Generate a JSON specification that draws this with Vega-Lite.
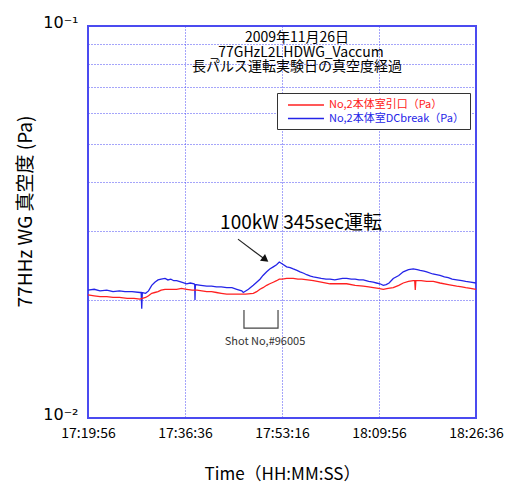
{
  "$schema": "https://vega.github.io/schema/vega-lite/v6.json",
  "width": 388,
  "height": 392,
  "autosize": {"type": "none"},
  "padding": {"left": 88, "top": 26, "right": 37, "bottom": 67},
  "background": "white",
  "config": {
    "view": {"stroke": "#4b4bef", "strokeWidth": 2},
    "font": "Noto Sans CJK JP"
  },
  "title": {
    "text": ["2009年11月26日", "_77GHzL2LHDWG_Vaccum", "長パルス運転実験日の真空度経過"],
    "fontSize": 14,
    "fontWeight": "normal",
    "lineHeight": 14.5,
    "color": "black",
    "font": "Noto Sans CJK JP",
    "anchor": "middle",
    "dx": 15,
    "offset": -60
  },
  "encoding": {
    "x": {
      "field": "t",
      "type": "quantitative",
      "scale": {"domain": [62396, 66396], "nice": false, "zero": false},
      "axis": {
        "values": [62396, 63396, 64396, 65396, 66396],
        "labelExpr": "utcFormat(datum.value*1000, '%H:%M:%S')",
        "ticks": false,
        "domain": false,
        "grid": true,
        "gridColor": "#4a4af5",
        "gridDash": [1, 2],
        "gridOpacity": 1,
        "labelFontSize": 14,
        "labelColor": "black",
        "labelPadding": 8,
        "labelFlush": false,
        "title": "Time（HH:MM:SS）",
        "titleFontSize": 17,
        "titleFontWeight": "normal",
        "titleColor": "black",
        "titlePadding": 26
      }
    },
    "y": {
      "field": "v",
      "type": "quantitative",
      "scale": {"type": "log", "domain": [0.01, 0.1], "nice": false},
      "axis": {
        "values": [0.01, 0.02, 0.03, 0.04, 0.05, 0.06, 0.07, 0.08, 0.09, 0.1],
        "labelExpr": "datum.value == 0.1 ? '10⁻¹' : (datum.value == 0.01 ? '10⁻²' : '')",
        "ticks": false,
        "domain": false,
        "grid": true,
        "gridColor": "#4a4af5",
        "gridDash": [1, 2],
        "gridOpacity": 1,
        "labelFont": "DejaVu Sans",
        "labelFontSize": 16,
        "labelOffset": -4,
        "labelColor": "black",
        "labelPadding": 10,
        "labelFlush": false,
        "title": "77HHz WG 真空度 (Pa)",
        "titleFontSize": 19,
        "titleFontWeight": "normal",
        "titleColor": "black",
        "titleX": -63,
        "titleY": 185,
        "titleBaseline": "middle",
        "titleAlign": "center"
      }
    }
  },
  "layer": [
    {
      "data": {"name": "series"},
      "mark": {"type": "line", "strokeWidth": 1.3},
      "encoding": {
        "color": {
          "field": "s",
          "type": "nominal",
          "scale": {
            "domain": ["No,2本体室引口（Pa）", "No,2本体室DCbreak（Pa）"],
            "range": ["#ff2020", "#2424e8"]
          },
          "legend": {
            "orient": "none",
            "legendX": 189,
            "legendY": 67,
            "title": null,
            "symbolType": "M-0.17,0H5.83",
            "symbolSize": 144,
            "symbolStrokeWidth": 1.5,
            "labelFontSize": 11,
            "labelLimit": 300,
            "labelOffset": 33,
            "strokeColor": "#333333",
            "fillColor": "white",
            "padding": 5,
            "rowPadding": 1.5,
            "encode": {"labels": {"update": {"fill": {"scale": "color", "field": "value"}}}}
          }
        }
      }
    },
    {
      "data": {"values": [{"t": 63942, "v": 0.0286}, {"t": 64215, "v": 0.02545}]},
      "mark": {"type": "line", "color": "#222222", "strokeWidth": 1.2},
      "encoding": {}
    },
    {
      "data": {"values": [{"t": 64225, "v": 0.02535}]},
      "mark": {"type": "point", "shape": "triangle-right", "filled": true, "color": "#111111", "size": 70, "angle": 37, "opacity": 1},
      "encoding": {}
    },
    {
      "data": {"values": [
        {"t": 64004, "v": 0.01886, "o": 1},
        {"t": 64004, "v": 0.01696, "o": 2},
        {"t": 64355, "v": 0.01696, "o": 3},
        {"t": 64355, "v": 0.01886, "o": 4}
      ]},
      "mark": {"type": "line", "color": "#444444", "strokeWidth": 1.2},
      "encoding": {"order": {"field": "o", "type": "quantitative"}}
    },
    {
      "data": {"values": [{"t": 64592, "v": 0.0314, "label": "100kW 345sec運転"}]},
      "mark": {"type": "text", "fontSize": 19, "color": "black", "baseline": "middle", "align": "center"},
      "encoding": {"text": {"field": "label"}}
    },
    {
      "data": {"values": [{"t": 64221, "v": 0.01563, "label": "Shot No,#96005"}]},
      "mark": {"type": "text", "fontSize": 11, "color": "#333333", "baseline": "middle", "align": "center"},
      "encoding": {"text": {"field": "label"}}
    }
  ],
  "datasets": {
    "series": [
      {"s": "No,2本体室DCbreak（Pa）", "t": 62396, "v": 0.0212},
      {"s": "No,2本体室DCbreak（Pa）", "t": 62460, "v": 0.0213},
      {"s": "No,2本体室DCbreak（Pa）", "t": 62520, "v": 0.0211},
      {"s": "No,2本体室DCbreak（Pa）", "t": 62590, "v": 0.0212},
      {"s": "No,2本体室DCbreak（Pa）", "t": 62654, "v": 0.0210},
      {"s": "No,2本体室DCbreak（Pa）", "t": 62720, "v": 0.0211},
      {"s": "No,2本体室DCbreak（Pa）", "t": 62777, "v": 0.0210},
      {"s": "No,2本体室DCbreak（Pa）", "t": 62850, "v": 0.0210},
      {"s": "No,2本体室DCbreak（Pa）", "t": 62932, "v": 0.0209},
      {"s": "No,2本体室DCbreak（Pa）", "t": 62944, "v": 0.0209},
      {"s": "No,2本体室DCbreak（Pa）", "t": 62950, "v": 0.0190},
      {"s": "No,2本体室DCbreak（Pa）", "t": 62956, "v": 0.0209},
      {"s": "No,2本体室DCbreak（Pa）", "t": 62990, "v": 0.0208},
      {"s": "No,2本体室DCbreak（Pa）", "t": 63020, "v": 0.0211},
      {"s": "No,2本体室DCbreak（Pa）", "t": 63053, "v": 0.0218},
      {"s": "No,2本体室DCbreak（Pa）", "t": 63085, "v": 0.0222},
      {"s": "No,2本体室DCbreak（Pa）", "t": 63118, "v": 0.0225},
      {"s": "No,2本体室DCbreak（Pa）", "t": 63150, "v": 0.0226},
      {"s": "No,2本体室DCbreak（Pa）", "t": 63190, "v": 0.0227},
      {"s": "No,2本体室DCbreak（Pa）", "t": 63220, "v": 0.0225},
      {"s": "No,2本体室DCbreak（Pa）", "t": 63250, "v": 0.0226},
      {"s": "No,2本体室DCbreak（Pa）", "t": 63280, "v": 0.0224},
      {"s": "No,2本体室DCbreak（Pa）", "t": 63310, "v": 0.0224},
      {"s": "No,2本体室DCbreak（Pa）", "t": 63360, "v": 0.0222},
      {"s": "No,2本体室DCbreak（Pa）", "t": 63413, "v": 0.0220},
      {"s": "No,2本体室DCbreak（Pa）", "t": 63450, "v": 0.0221},
      {"s": "No,2本体室DCbreak（Pa）", "t": 63490, "v": 0.0220},
      {"s": "No,2本体室DCbreak（Pa）", "t": 63496, "v": 0.0219},
      {"s": "No,2本体室DCbreak（Pa）", "t": 63499, "v": 0.0200},
      {"s": "No,2本体室DCbreak（Pa）", "t": 63503, "v": 0.0219},
      {"s": "No,2本体室DCbreak（Pa）", "t": 63560, "v": 0.0218},
      {"s": "No,2本体室DCbreak（Pa）", "t": 63620, "v": 0.0217},
      {"s": "No,2本体室DCbreak（Pa）", "t": 63670, "v": 0.0217},
      {"s": "No,2本体室DCbreak（Pa）", "t": 63720, "v": 0.0216},
      {"s": "No,2本体室DCbreak（Pa）", "t": 63770, "v": 0.0216},
      {"s": "No,2本体室DCbreak（Pa）", "t": 63826, "v": 0.0215},
      {"s": "No,2本体室DCbreak（Pa）", "t": 63880, "v": 0.0215},
      {"s": "No,2本体室DCbreak（Pa）", "t": 63930, "v": 0.0213},
      {"s": "No,2本体室DCbreak（Pa）", "t": 63981, "v": 0.0211},
      {"s": "No,2本体室DCbreak（Pa）", "t": 63997, "v": 0.0209},
      {"s": "No,2本体室DCbreak（Pa）", "t": 64050, "v": 0.0213},
      {"s": "No,2本体室DCbreak（Pa）", "t": 64100, "v": 0.0218},
      {"s": "No,2本体室DCbreak（Pa）", "t": 64135, "v": 0.0222},
      {"s": "No,2本体室DCbreak（Pa）", "t": 64169, "v": 0.0226},
      {"s": "No,2本体室DCbreak（Pa）", "t": 64200, "v": 0.0231},
      {"s": "No,2本体室DCbreak（Pa）", "t": 64238, "v": 0.0236},
      {"s": "No,2本体室DCbreak（Pa）", "t": 64270, "v": 0.0240},
      {"s": "No,2本体室DCbreak（Pa）", "t": 64306, "v": 0.0243},
      {"s": "No,2本体室DCbreak（Pa）", "t": 64340, "v": 0.0246},
      {"s": "No,2本体室DCbreak（Pa）", "t": 64368, "v": 0.0250},
      {"s": "No,2本体室DCbreak（Pa）", "t": 64400, "v": 0.0247},
      {"s": "No,2本体室DCbreak（Pa）", "t": 64444, "v": 0.0243},
      {"s": "No,2本体室DCbreak（Pa）", "t": 64480, "v": 0.0242},
      {"s": "No,2本体室DCbreak（Pa）", "t": 64512, "v": 0.0240},
      {"s": "No,2本体室DCbreak（Pa）", "t": 64550, "v": 0.0238},
      {"s": "No,2本体室DCbreak（Pa）", "t": 64582, "v": 0.0236},
      {"s": "No,2本体室DCbreak（Pa）", "t": 64620, "v": 0.0234},
      {"s": "No,2本体室DCbreak（Pa）", "t": 64650, "v": 0.0232},
      {"s": "No,2本体室DCbreak（Pa）", "t": 64690, "v": 0.0230},
      {"s": "No,2本体室DCbreak（Pa）", "t": 64719, "v": 0.0229},
      {"s": "No,2本体室DCbreak（Pa）", "t": 64760, "v": 0.0228},
      {"s": "No,2本体室DCbreak（Pa）", "t": 64800, "v": 0.0227},
      {"s": "No,2本体室DCbreak（Pa）", "t": 64850, "v": 0.0226},
      {"s": "No,2本体室DCbreak（Pa）", "t": 64891, "v": 0.0226},
      {"s": "No,2本体室DCbreak（Pa）", "t": 64940, "v": 0.0225},
      {"s": "No,2本体室DCbreak（Pa）", "t": 64980, "v": 0.0226},
      {"s": "No,2本体室DCbreak（Pa）", "t": 65020, "v": 0.0227},
      {"s": "No,2本体室DCbreak（Pa）", "t": 65063, "v": 0.0227},
      {"s": "No,2本体室DCbreak（Pa）", "t": 65110, "v": 0.0226},
      {"s": "No,2本体室DCbreak（Pa）", "t": 65150, "v": 0.0226},
      {"s": "No,2本体室DCbreak（Pa）", "t": 65190, "v": 0.0225},
      {"s": "No,2本体室DCbreak（Pa）", "t": 65234, "v": 0.0225},
      {"s": "No,2本体室DCbreak（Pa）", "t": 65290, "v": 0.0223},
      {"s": "No,2本体室DCbreak（Pa）", "t": 65337, "v": 0.0222},
      {"s": "No,2本体室DCbreak（Pa）", "t": 65370, "v": 0.0221},
      {"s": "No,2本体室DCbreak（Pa）", "t": 65406, "v": 0.0220},
      {"s": "No,2本体室DCbreak（Pa）", "t": 65440, "v": 0.0218},
      {"s": "No,2本体室DCbreak（Pa）", "t": 65470, "v": 0.0219},
      {"s": "No,2本体室DCbreak（Pa）", "t": 65500, "v": 0.0221},
      {"s": "No,2本体室DCbreak（Pa）", "t": 65543, "v": 0.0227},
      {"s": "No,2本体室DCbreak（Pa）", "t": 65600, "v": 0.0231},
      {"s": "No,2本体室DCbreak（Pa）", "t": 65646, "v": 0.0236},
      {"s": "No,2本体室DCbreak（Pa）", "t": 65700, "v": 0.0239},
      {"s": "No,2本体室DCbreak（Pa）", "t": 65749, "v": 0.0240},
      {"s": "No,2本体室DCbreak（Pa）", "t": 65790, "v": 0.0239},
      {"s": "No,2本体室DCbreak（Pa）", "t": 65820, "v": 0.0238},
      {"s": "No,2本体室DCbreak（Pa）", "t": 65860, "v": 0.0237},
      {"s": "No,2本体室DCbreak（Pa）", "t": 65888, "v": 0.0236},
      {"s": "No,2本体室DCbreak（Pa）", "t": 65950, "v": 0.0233},
      {"s": "No,2本体室DCbreak（Pa）", "t": 66025, "v": 0.0231},
      {"s": "No,2本体室DCbreak（Pa）", "t": 66070, "v": 0.0229},
      {"s": "No,2本体室DCbreak（Pa）", "t": 66110, "v": 0.0228},
      {"s": "No,2本体室DCbreak（Pa）", "t": 66150, "v": 0.0226},
      {"s": "No,2本体室DCbreak（Pa）", "t": 66197, "v": 0.0225},
      {"s": "No,2本体室DCbreak（Pa）", "t": 66250, "v": 0.0224},
      {"s": "No,2本体室DCbreak（Pa）", "t": 66290, "v": 0.0223},
      {"s": "No,2本体室DCbreak（Pa）", "t": 66340, "v": 0.0222},
      {"s": "No,2本体室DCbreak（Pa）", "t": 66396, "v": 0.0221},
      {"s": "No,2本体室引口（Pa）", "t": 62396, "v": 0.0206},
      {"s": "No,2本体室引口（Pa）", "t": 62460, "v": 0.0205},
      {"s": "No,2本体室引口（Pa）", "t": 62520, "v": 0.0204},
      {"s": "No,2本体室引口（Pa）", "t": 62590, "v": 0.0204},
      {"s": "No,2本体室引口（Pa）", "t": 62654, "v": 0.0203},
      {"s": "No,2本体室引口（Pa）", "t": 62720, "v": 0.0203},
      {"s": "No,2本体室引口（Pa）", "t": 62800, "v": 0.0202},
      {"s": "No,2本体室引口（Pa）", "t": 62870, "v": 0.0202},
      {"s": "No,2本体室引口（Pa）", "t": 62932, "v": 0.0201},
      {"s": "No,2本体室引口（Pa）", "t": 62990, "v": 0.0203},
      {"s": "No,2本体室引口（Pa）", "t": 63020, "v": 0.0205},
      {"s": "No,2本体室引口（Pa）", "t": 63053, "v": 0.0208},
      {"s": "No,2本体室引口（Pa）", "t": 63085, "v": 0.0209},
      {"s": "No,2本体室引口（Pa）", "t": 63118, "v": 0.0210},
      {"s": "No,2本体室引口（Pa）", "t": 63150, "v": 0.0212},
      {"s": "No,2本体室引口（Pa）", "t": 63190, "v": 0.0213},
      {"s": "No,2本体室引口（Pa）", "t": 63250, "v": 0.0213},
      {"s": "No,2本体室引口（Pa）", "t": 63310, "v": 0.0213},
      {"s": "No,2本体室引口（Pa）", "t": 63360, "v": 0.0214},
      {"s": "No,2本体室引口（Pa）", "t": 63413, "v": 0.0213},
      {"s": "No,2本体室引口（Pa）", "t": 63470, "v": 0.0212},
      {"s": "No,2本体室引口（Pa）", "t": 63520, "v": 0.0212},
      {"s": "No,2本体室引口（Pa）", "t": 63570, "v": 0.0211},
      {"s": "No,2本体室引口（Pa）", "t": 63620, "v": 0.0210},
      {"s": "No,2本体室引口（Pa）", "t": 63670, "v": 0.0210},
      {"s": "No,2本体室引口（Pa）", "t": 63720, "v": 0.0209},
      {"s": "No,2本体室引口（Pa）", "t": 63770, "v": 0.0208},
      {"s": "No,2本体室引口（Pa）", "t": 63826, "v": 0.0207},
      {"s": "No,2本体室引口（Pa）", "t": 63890, "v": 0.0207},
      {"s": "No,2本体室引口（Pa）", "t": 63950, "v": 0.0207},
      {"s": "No,2本体室引口（Pa）", "t": 64020, "v": 0.0207},
      {"s": "No,2本体室引口（Pa）", "t": 64100, "v": 0.0208},
      {"s": "No,2本体室引口（Pa）", "t": 64135, "v": 0.0210},
      {"s": "No,2本体室引口（Pa）", "t": 64169, "v": 0.0213},
      {"s": "No,2本体室引口（Pa）", "t": 64200, "v": 0.0215},
      {"s": "No,2本体室引口（Pa）", "t": 64238, "v": 0.0218},
      {"s": "No,2本体室引口（Pa）", "t": 64270, "v": 0.0220},
      {"s": "No,2本体室引口（Pa）", "t": 64306, "v": 0.0222},
      {"s": "No,2本体室引口（Pa）", "t": 64340, "v": 0.0224},
      {"s": "No,2本体室引口（Pa）", "t": 64368, "v": 0.0226},
      {"s": "No,2本体室引口（Pa）", "t": 64400, "v": 0.0226},
      {"s": "No,2本体室引口（Pa）", "t": 64444, "v": 0.0227},
      {"s": "No,2本体室引口（Pa）", "t": 64480, "v": 0.0227},
      {"s": "No,2本体室引口（Pa）", "t": 64512, "v": 0.0227},
      {"s": "No,2本体室引口（Pa）", "t": 64560, "v": 0.0226},
      {"s": "No,2本体室引口（Pa）", "t": 64600, "v": 0.0226},
      {"s": "No,2本体室引口（Pa）", "t": 64660, "v": 0.0225},
      {"s": "No,2本体室引口（Pa）", "t": 64719, "v": 0.0224},
      {"s": "No,2本体室引口（Pa）", "t": 64800, "v": 0.0222},
      {"s": "No,2本体室引口（Pa）", "t": 64891, "v": 0.0220},
      {"s": "No,2本体室引口（Pa）", "t": 64980, "v": 0.0220},
      {"s": "No,2本体室引口（Pa）", "t": 65063, "v": 0.0220},
      {"s": "No,2本体室引口（Pa）", "t": 65150, "v": 0.0218},
      {"s": "No,2本体室引口（Pa）", "t": 65234, "v": 0.0217},
      {"s": "No,2本体室引口（Pa）", "t": 65290, "v": 0.0216},
      {"s": "No,2本体室引口（Pa）", "t": 65337, "v": 0.0215},
      {"s": "No,2本体室引口（Pa）", "t": 65390, "v": 0.0214},
      {"s": "No,2本体室引口（Pa）", "t": 65440, "v": 0.0213},
      {"s": "No,2本体室引口（Pa）", "t": 65490, "v": 0.0214},
      {"s": "No,2本体室引口（Pa）", "t": 65543, "v": 0.0215},
      {"s": "No,2本体室引口（Pa）", "t": 65600, "v": 0.0218},
      {"s": "No,2本体室引口（Pa）", "t": 65646, "v": 0.0221},
      {"s": "No,2本体室引口（Pa）", "t": 65700, "v": 0.0223},
      {"s": "No,2本体室引口（Pa）", "t": 65749, "v": 0.0224},
      {"s": "No,2本体室引口（Pa）", "t": 65764, "v": 0.0224},
      {"s": "No,2本体室引口（Pa）", "t": 65770, "v": 0.0212},
      {"s": "No,2本体室引口（Pa）", "t": 65776, "v": 0.0224},
      {"s": "No,2本体室引口（Pa）", "t": 65830, "v": 0.0224},
      {"s": "No,2本体室引口（Pa）", "t": 65888, "v": 0.0223},
      {"s": "No,2本体室引口（Pa）", "t": 65956, "v": 0.0223},
      {"s": "No,2本体室引口（Pa）", "t": 66025, "v": 0.0221},
      {"s": "No,2本体室引口（Pa）", "t": 66110, "v": 0.0219},
      {"s": "No,2本体室引口（Pa）", "t": 66197, "v": 0.0217},
      {"s": "No,2本体室引口（Pa）", "t": 66250, "v": 0.0216},
      {"s": "No,2本体室引口（Pa）", "t": 66290, "v": 0.0215},
      {"s": "No,2本体室引口（Pa）", "t": 66340, "v": 0.0214},
      {"s": "No,2本体室引口（Pa）", "t": 66396, "v": 0.0213}
    ]
  }
}
